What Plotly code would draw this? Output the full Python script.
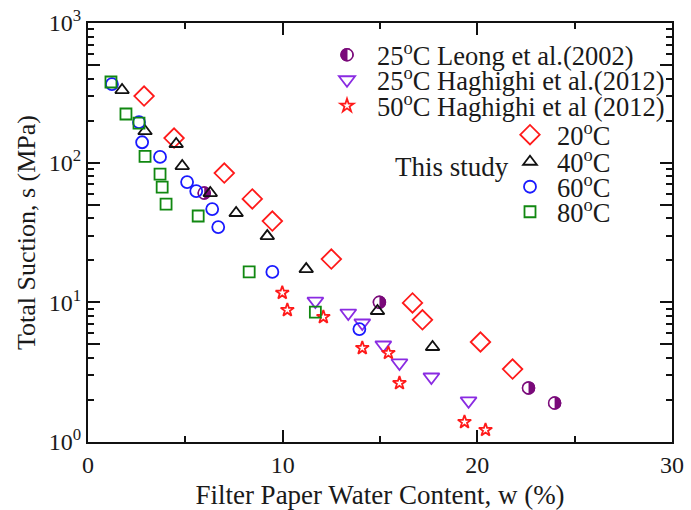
import plotly.graph_objects as go

# ---- data ----
leong_w = [5.97, 14.97, 22.63, 23.97]
leong_s = [60.6, 10.0, 2.44, 1.90]

hag25_w = [11.68, 13.37, 14.09, 15.17, 16.0, 17.64, 19.55]
hag25_s = [10.2, 8.38, 7.11, 4.95, 3.68, 2.92, 1.97]

hag50_w = [9.98, 10.24, 12.09, 14.09, 15.43, 16.0, 19.34, 20.42]
hag50_s = [11.7, 8.81, 7.85, 4.71, 4.34, 2.64, 1.39, 1.22]

t20_w = [2.88, 4.42, 7.0, 8.44, 9.47, 12.5, 16.67, 17.18, 20.16, 21.81]
t20_s = [300, 150, 84.3, 55, 38.2, 20.4, 9.9, 7.5, 5.2, 3.33]

t40_w = [1.75, 2.93, 4.53, 4.84, 6.28, 7.61, 9.21, 11.21, 14.87, 17.70]
t40_s = [331, 168, 136, 94.6, 60.6, 43.6, 29.8, 17.3, 8.67, 4.79]

t60_w = [1.23, 2.62, 2.78, 3.70, 5.09, 5.56, 6.38, 6.69, 9.47, 13.94]
t60_s = [365, 195, 140, 110, 72.6, 62.6, 46.5, 34.6, 16.5, 6.44]

t80_w = [1.18, 1.95, 2.62, 2.93, 3.70, 3.81, 4.01, 5.66, 8.28, 11.68]
t80_s = [378, 223, 192, 111, 82.9, 66.9, 50.5, 41.5, 16.5, 8.5]

x_ticks = [0, 10, 20, 30]
y_major = [1, 5, 10, 50, 100, 500, 1000]
y_major_text = ["10<sup>0</sup>", "", "10<sup>1</sup>", "", "10<sup>2</sup>", "", "10<sup>3</sup>"]
y_minor = [2, 3, 4, 6, 7, 8, 9, 20, 30, 40, 60, 70, 80, 90,
           200, 300, 400, 600, 700, 800, 900]

FONT = "Liberation Serif, Times New Roman, serif"
TXT = "#1a1a1a"
PURPLE = "#7a0a7a"

fig = go.Figure()

# half-filled circles (Leong et al.): filled disc, white left half, outline on top
fig.add_trace(go.Scatter(x=leong_w, y=leong_s, mode="markers", name=" ", legend="legend",
                         marker=dict(symbol="circle", size=12, color=PURPLE,
                                     line=dict(color=PURPLE, width=1.5))))
fig.add_trace(go.Scatter(x=leong_w, y=leong_s, mode="markers", name=" ", legend="legend8",
                         marker=dict(symbol="line-ew", size=8, color="white", angle=90,
                                     standoff=3, line=dict(color="white", width=6))))
fig.add_trace(go.Scatter(x=leong_w, y=leong_s, mode="markers",
                         name="25<sup>o</sup>C Leong et al.(2002)", legend="legend9",
                         marker=dict(symbol="circle-open", size=12, color=PURPLE,
                                     line=dict(width=1.5))))

series = [
    dict(name="25<sup>o</sup>C Haghighi et al.(2012)", w=hag25_w, s=hag25_s, legend="legend2",
         marker=dict(symbol="triangle-down-open", size=14, color="#8a2be2",
                     line=dict(width=1.8))),
    dict(name="50<sup>o</sup>C Haghighi et al (2012)", w=hag50_w, s=hag50_s, legend="legend3",
         marker=dict(symbol="star-open", size=10, color="#ff1a1a", line=dict(width=1.8))),
    dict(name="20<sup>o</sup>C", w=t20_w, s=t20_s, legend="legend4",
         marker=dict(symbol="diamond-open", size=15, color="#ff1a1a", line=dict(width=1.8))),
    dict(name="40<sup>o</sup>C", w=t40_w, s=t40_s, legend="legend5",
         marker=dict(symbol="triangle-up-open", size=12, color="#111111", line=dict(width=1.8))),
    dict(name="60<sup>o</sup>C", w=t60_w, s=t60_s, legend="legend6",
         marker=dict(symbol="circle-open", size=12, color="#1a1aff", line=dict(width=1.8))),
    dict(name="80<sup>o</sup>C", w=t80_w, s=t80_s, legend="legend7",
         marker=dict(symbol="square-open", size=11, color="#118811", line=dict(width=1.8))),
]
for sr in series:
    fig.add_trace(go.Scatter(x=sr["w"], y=sr["s"], mode="markers", name=sr["name"],
                             legend=sr["legend"], marker=sr["marker"]))

# plot area in pixels: x 88..672, y 23..442
def px(xp):
    return (xp - 88) / 584.0

def py(yp):
    return (442 - yp) / 419.0

leg_common = dict(bgcolor="rgba(0,0,0,0)", borderwidth=0,
                  font=dict(family=FONT, size=26.5, color=TXT),
                  xanchor="left", yanchor="middle", tracegroupgap=0)

legend_pos = [("legend", 347, 55, 50), ("legend8", 347, 55, 50), ("legend9", 347, 55, 50),
              ("legend2", 347, 80, 50), ("legend3", 347, 106, 50),
              ("legend4", 530, 135, 44), ("legend5", 530, 162, 44),
              ("legend6", 530, 187, 44), ("legend7", 530, 212, 44)]
leg_layout = {}
for key, mx, my, w in legend_pos:
    left = mx - (w / 2 + 5)
    leg_layout[key] = dict(leg_common, x=px(left), y=py(my), itemwidth=w)

fig.update_layout(**leg_layout)

fig.add_annotation(text="This study", x=px(452), y=py(167), xref="paper", yref="paper",
                   showarrow=False, font=dict(family=FONT, size=27, color=TXT),
                   xanchor="center", yanchor="middle")

axis_common = dict(showline=True, linecolor="#111111", linewidth=2, mirror="ticks",
                   ticks="inside", tickcolor="#111111", tickwidth=2, ticklen=12,
                   showgrid=False, zeroline=False, automargin=False,
                   tickfont=dict(family=FONT, size=24, color=TXT))

fig.update_xaxes(range=[0, 30], tickvals=x_ticks, ticktext=[str(v) for v in x_ticks],
                 minor=dict(tickvals=[5, 15, 25], ticks="inside", ticklen=6,
                            tickwidth=2, tickcolor="#111111", showgrid=False),
                 title=dict(text="Filter Paper Water Content, w (%)",
                            font=dict(family=FONT, size=27, color=TXT), standoff=8),
                 **axis_common)
fig.update_yaxes(type="log", range=[0, 3], tickvals=y_major, ticktext=y_major_text,
                 minor=dict(tickvals=y_minor, ticks="inside", ticklen=6,
                            tickwidth=2, tickcolor="#111111", showgrid=False),
                 title=dict(text="Total Suction, s (MPa)",
                            font=dict(family=FONT, size=26, color=TXT), standoff=6),
                 **axis_common)

fig.update_layout(width=691, height=510, margin=dict(l=88, r=19, t=23, b=68),
                  paper_bgcolor="white", plot_bgcolor="white", showlegend=True)

fig.write_html("out.html")
